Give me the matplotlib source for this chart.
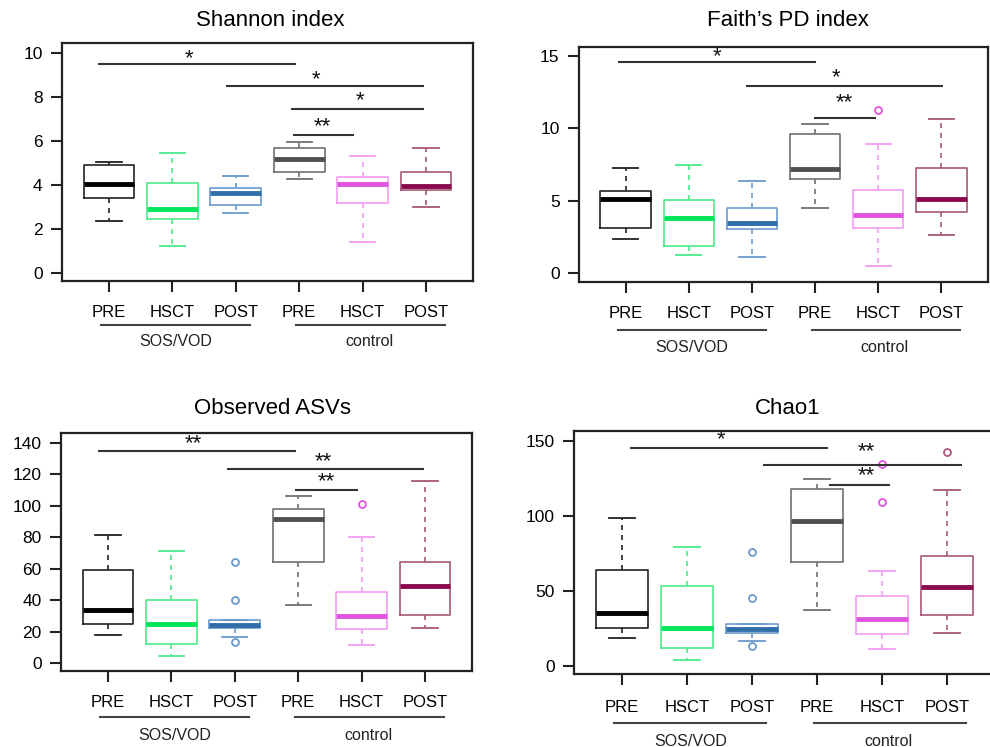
import matplotlib
matplotlib.use('Agg')
import matplotlib.pyplot as plt

plt.rcParams['font.family'] = ['Liberation Sans', 'DejaVu Sans']

W, H = 990, 747

groups = ['PRE', 'HSCT', 'POST', 'PRE', 'HSCT', 'POST']
cohorts = ['SOS/VOD', 'control']

# box colours (edge, median) per group
edge_cols = ['#222222', '#4BEA8A', '#6A9ACB', '#707070', '#F29CF2', '#A8577A']
med_cols = ['#000000', '#00E65A', '#2F6EA8', '#505050', '#E055E0', '#8B0A4E']

# Shannon index
shannon_lo = [2.36, 1.24, 2.74, 4.26, 1.42, 2.99]
shannon_q1 = [3.42, 2.44, 3.09, 4.59, 3.17, 3.77]
shannon_med = [4.06, 2.89, 3.62, 5.20, 4.06, 3.95]
shannon_q3 = [4.91, 4.08, 3.88, 5.68, 4.36, 4.59]
shannon_hi = [5.06, 5.47, 4.41, 5.97, 5.32, 5.68]
shannon_out = [[], [], [], [], [], []]

# Faith's PD
faith_lo = [2.35, 1.22, 1.11, 4.51, 0.51, 2.65]
faith_q1 = [3.09, 1.84, 3.02, 6.50, 3.09, 4.19]
faith_med = [5.11, 3.82, 3.46, 7.19, 3.99, 5.14]
faith_q3 = [5.67, 5.02, 4.51, 9.58, 5.71, 7.28]
faith_hi = [7.23, 7.44, 6.36, 10.32, 8.89, 10.64]
faith_out = [[], [], [], [], [11.3], []]

# Observed ASVs
asv_lo = [18, 4.5, 16.4, 37, 11.5, 22.3]
asv_q1 = [24.8, 11.9, 22.3, 64.1, 21.6, 30.3]
asv_med = [33.9, 25, 24.2, 91.8, 29.9, 49]
asv_q3 = [59, 40.1, 27.6, 98, 45.4, 64.5]
asv_hi = [81.2, 71.1, 27.6, 106.5, 80.2, 115.6]
asv_out = [[], [], [64, 40.3, 13.4], [], [101.2], []]

# Chao1
chao_lo = [18.4, 4, 16.4, 37.6, 11.3, 22]
chao_q1 = [25.1, 11.8, 22, 69.6, 21.3, 34.2]
chao_med = [35.1, 25.6, 24.9, 96.7, 31.1, 52.9]
chao_q3 = [63.8, 53.6, 27.8, 117.8, 46.4, 73.3]
chao_hi = [98.7, 79.1, 27.8, 124.9, 63.1, 117.1]
chao_out = [[], [], [76, 45.3, 13.3], [], [109.6, 134.7], [142.9]]

# significance bars: x start, x end, y, stars, star x, star y
shannon_sig = [(0.83, 3.95, 9.5, '*', 2.26, 9.8),
               (2.84, 5.96, 8.5, '*', 4.27, 8.85),
               (3.87, 5.96, 7.45, '*', 4.96, 7.9),
               (3.9, 4.86, 6.27, '**', 4.37, 6.7)]
faith_sig = [(0.88, 4.01, 14.56, '*', 2.44, 15.07),
             (2.9, 6.03, 12.94, '*', 4.33, 13.6),
             (3.98, 4.96, 10.69, '**', 4.46, 11.9)]
asv_sig = [(0.84, 3.97, 135.1, '**', 2.34, 140.6),
           (2.88, 5.99, 123.7, '**', 4.39, 128.8),
           (3.95, 4.94, 110.1, '**', 4.45, 116.5)]
chao_sig = [(1.13, 4.17, 145.5, '*', 2.52, 151.8),
            (3.17, 6.23, 134, '**', 4.76, 144),
            (4.18, 5.12, 120.7, '**', 4.76, 127.8)]

fig = plt.figure(figsize=(W / 100, H / 100), dpi=100)


def panel(box, title, title_xy, lo, q1, med, q3, hi, out, sig, yticks, ylim, xlim, offs):
    l, t, r, b = box
    ax = fig.add_axes([l / W, 1 - b / H, (r - l) / W, (b - t) / H])
    hpx = b - t
    stats = []
    for i in range(6):
        stats.append(dict(whislo=lo[i], q1=q1[i], med=med[i], q3=q3[i],
                          whishi=hi[i], fliers=out[i]))
    bp = ax.bxp(stats, positions=range(1, 7), widths=0.8, capwidths=0.4,
                showfliers=True, patch_artist=False)
    for i in range(6):
        bp['boxes'][i].set(color=edge_cols[i], lw=1.2)
        bp['medians'][i].set(color=med_cols[i], lw=3.5, solid_capstyle='butt')
        for w in bp['whiskers'][2 * i:2 * i + 2]:
            w.set(color=edge_cols[i], lw=1.2, linestyle=(0, (3, 3)))
        for c in bp['caps'][2 * i:2 * i + 2]:
            c.set(color=edge_cols[i], lw=1.3)
        bp['fliers'][i].set(marker='o', markerfacecolor='none',
                            markeredgecolor=edge_cols[i] if i != 4 else med_cols[i],
                            markersize=5, mew=1.3)

    for x0, x1, y, lab, sx, sy in sig:
        ax.plot([x0, x1], [y, y], color='#333333', lw=1.5, solid_capstyle='butt')
        ax.annotate(lab, xy=(sx, sy), xytext=(0, -5), textcoords='offset points',
                    ha='center', va='baseline', fontsize=16, color='#111111')

    ax.set_xlim(*xlim)
    ax.set_ylim(*ylim)
    ax.set_yticks(yticks)
    ax.set_xticks(range(1, 7))
    ax.set_xticklabels(groups, fontsize=12)
    ax.tick_params(axis='y', labelsize=12.5, length=8, width=1.5, pad=6, color='#222222')
    ax.tick_params(axis='x', length=8, width=1.5, pad=offs[0], color='#222222')
    for s in ax.spines.values():
        s.set_linewidth(1.6)
        s.set_color('#222222')

    trans = ax.get_xaxis_transform()
    for (x0, x1), name, xc in zip([(0.88, 3.22), (3.95, 6.3)], cohorts, [2.05, 5.1]):
        ax.plot([x0, x1], [-offs[1] / hpx] * 2, transform=trans, clip_on=False,
                color='#444444', lw=1.5)
        ax.text(xc, -offs[2] / hpx, name, transform=trans, ha='center', va='center',
                fontsize=11.5, color='#222222')

    fig.text(title_xy[0] / W, 1 - title_xy[1] / H, title, ha='center', va='center',
             fontsize=16)
    return ax


panel((62, 43, 473, 281), 'Shannon index', (270, 21),
      shannon_lo, shannon_q1, shannon_med, shannon_q3, shannon_hi, shannon_out,
      shannon_sig, [0, 2, 4, 6, 8, 10], (-0.36, 10.45), (0.26, 6.74), (9, 44, 61))
panel((579, 47, 988, 282), 'Faith\u2019s PD index', (788, 21),
      faith_lo, faith_q1, faith_med, faith_q3, faith_hi, faith_out,
      faith_sig, [0, 5, 10, 15], (-0.62, 15.62), (0.26, 6.74), (9, 48, 66))
panel((61, 433, 472, 671), 'Observed ASVs', (273, 409),
      asv_lo, asv_q1, asv_med, asv_q3, asv_hi, asv_out,
      asv_sig, [0, 20, 40, 60, 80, 100, 120, 140], (-5.1, 146.4), (0.26, 6.74), (9, 46, 64))
panel((574, 431, 1000, 674), 'Chao1', (788, 408),
      chao_lo, chao_q1, chao_med, chao_q3, chao_hi, chao_out,
      chao_sig, [0, 50, 100, 150], (-5.3, 156.7), (0.26, 6.82), (10.5, 49, 67))

fig.savefig('out.png', dpi=100)
